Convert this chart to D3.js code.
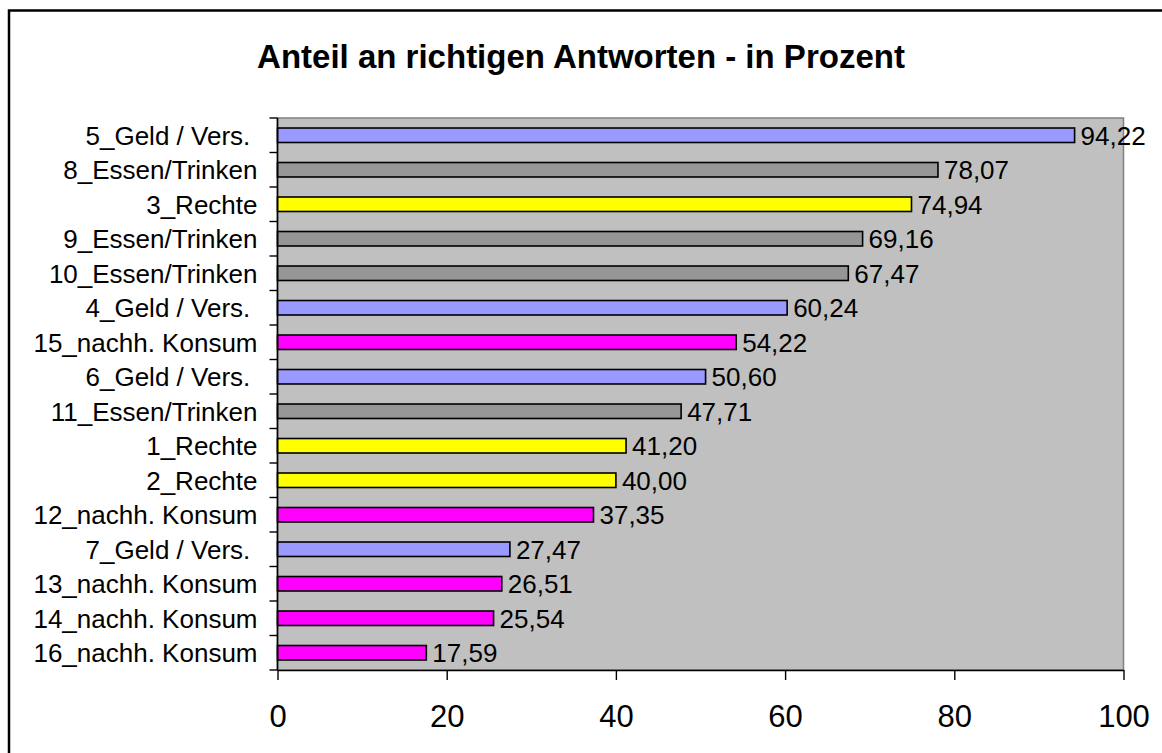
<!DOCTYPE html>
<html>
<head>
<meta charset="utf-8">
<script src="https://cdn.jsdelivr.net/npm/d3@7"></script>
<style>
  html, body { margin: 0; padding: 0; background: #fff; }
  text { font-family: "Liberation Sans", Arial, sans-serif; fill: #000; }
</style>
</head>
<body>
<div id="chart"></div>
<script>
// Categories (top to bottom) and their values
const categories = [
  "5_Geld / Vers. ", "8_Essen/Trinken", "3_Rechte", "9_Essen/Trinken",
  "10_Essen/Trinken", "4_Geld / Vers. ", "15_nachh. Konsum", "6_Geld / Vers. ",
  "11_Essen/Trinken", "1_Rechte", "2_Rechte", "12_nachh. Konsum",
  "7_Geld / Vers. ", "13_nachh. Konsum", "14_nachh. Konsum", "16_nachh. Konsum"
];
const values = [94.22, 78.07, 74.94, 69.16, 67.47, 60.24, 54.22, 50.60,
  47.71, 41.20, 40.00, 37.35, 27.47, 26.51, 25.54, 17.59];
const groups = ["Geld", "Essen", "Rechte", "Essen", "Essen", "Geld", "Konsum", "Geld",
  "Essen", "Rechte", "Rechte", "Konsum", "Geld", "Konsum", "Konsum", "Konsum"];
const groupNames = ["Geld", "Essen", "Rechte", "Konsum"];
const groupColors = ["#9999FF", "#969696", "#FFFF00", "#FF00FF"];
const xTicks = [0, 20, 40, 60, 80, 100];

const data = categories.map((c, i) => ({ name: c, value: values[i], group: groups[i] }));

const W = 1162, H = 753;
const plot = { left: 277.5, right: 1123.5, top: 118, bottom: 670 };

const de = d3.formatLocale({ decimal: ",", thousands: ".", grouping: [3], currency: ["", " €"] });
const fmt = de.format(".2f");

const svg = d3.select("#chart").append("svg")
  .attr("width", W).attr("height", H);

// outer chart frame (runs off the right and bottom edge)
svg.append("rect")
  .attr("x", 9).attr("y", 10.5)
  .attr("width", W + 20).attr("height", H + 20)
  .attr("fill", "#fff").attr("stroke", "#000").attr("stroke-width", 2.5);

svg.append("text")
  .attr("x", W / 2).attr("y", 68)
  .attr("text-anchor", "middle")
  .style("font-size", "33px").style("font-weight", "bold")
  .text("Anteil an richtigen Antworten - in Prozent");

const x = d3.scaleLinear().domain([0, 100]).range([plot.left, plot.right]);
const y = d3.scaleBand().domain(categories)
  .range([plot.top, plot.bottom])
  .paddingInner(0.58).paddingOuter(0.29);
const color = d3.scaleOrdinal().domain(groupNames).range(groupColors);

// plot area
svg.append("rect")
  .attr("x", plot.left).attr("y", plot.top)
  .attr("width", plot.right - plot.left).attr("height", plot.bottom - plot.top)
  .attr("fill", "#C0C0C0").attr("stroke", "#808080").attr("stroke-width", 1.5);

// bars
svg.append("g").selectAll("rect")
  .data(data).enter().append("rect")
  .attr("x", x(0))
  .attr("y", d => y(d.name))
  .attr("width", d => x(d.value) - x(0))
  .attr("height", y.bandwidth())
  .attr("fill", d => color(d.group))
  .attr("stroke", "#000").attr("stroke-width", 1.6);

// value labels
svg.append("g").selectAll("text")
  .data(data).enter().append("text")
  .attr("x", d => x(d.value) + 6)
  .attr("y", d => y(d.name) + y.bandwidth() / 2)
  .attr("dy", "0.36em")
  .style("font-size", "26px")
  .text(d => fmt(d.value));

// left axis with ticks between the categories
const step = y.step();
const yAxis = svg.append("g");
yAxis.append("line")
  .attr("x1", plot.left).attr("x2", plot.left)
  .attr("y1", plot.top).attr("y2", plot.bottom)
  .attr("stroke", "#000").attr("stroke-width", 1.6);
yAxis.selectAll("line.tick")
  .data(d3.range(categories.length + 1)).enter().append("line")
  .attr("class", "tick")
  .attr("x1", plot.left - 8).attr("x2", plot.left)
  .attr("y1", i => plot.top + i * step).attr("y2", i => plot.top + i * step)
  .attr("stroke", "#000").attr("stroke-width", 1.4);
yAxis.selectAll("text")
  .data(categories).enter().append("text")
  .attr("x", plot.left - 20)
  .attr("y", d => y(d) + y.bandwidth() / 2)
  .attr("dy", "0.36em")
  .attr("text-anchor", "end")
  .style("font-size", "26px")
  .style("white-space", "pre")
  .text(d => d);

// bottom axis
const xAxis = svg.append("g")
  .attr("transform", `translate(0,${plot.bottom})`)
  .call(d3.axisBottom(x).tickValues(xTicks).tickSize(10).tickPadding(25).tickSizeOuter(0));
xAxis.select(".domain").attr("stroke", "#000").attr("stroke-width", 1.6);
xAxis.selectAll(".tick line").attr("stroke", "#000").attr("stroke-width", 1.4);
xAxis.selectAll(".tick text")
  .style("font-size", "31px")
  .style("font-family", "'Liberation Sans', Arial, sans-serif")
  .attr("fill", "#000");
</script>
</body>
</html>
